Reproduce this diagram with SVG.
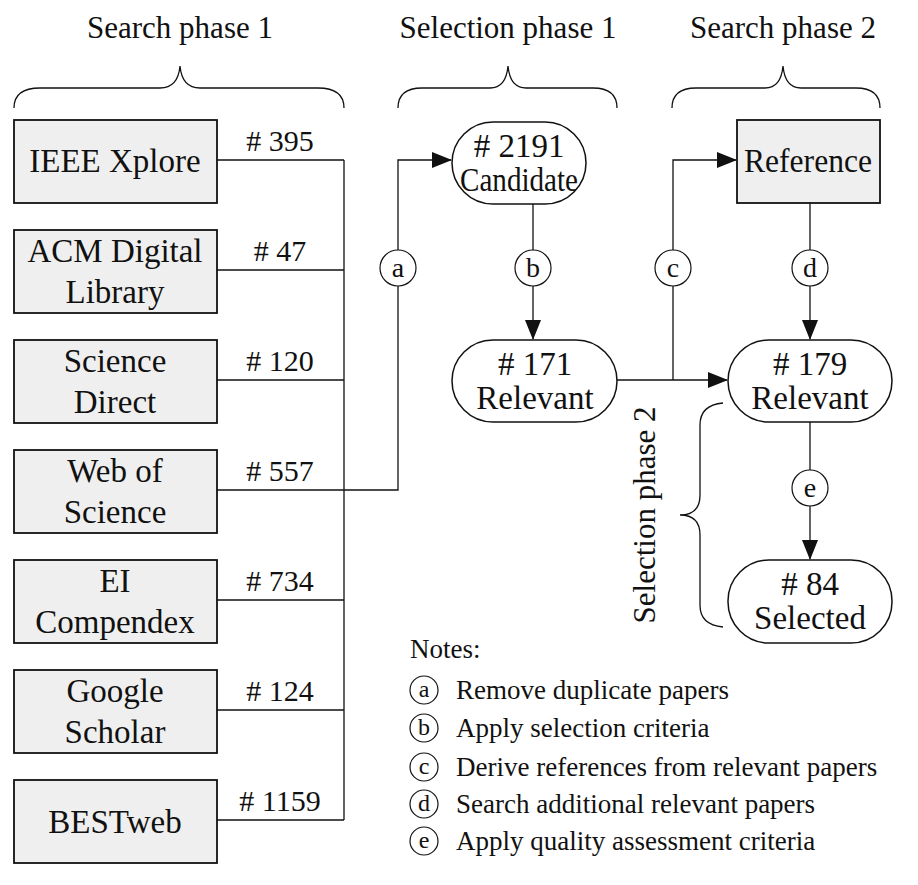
<svg xmlns="http://www.w3.org/2000/svg" width="918" height="885" viewBox="0 0 918 885">
<style>
text{font-family:"Liberation Serif","Times New Roman",serif;fill:#111}
.t{font-size:33px;text-anchor:middle}
.n{font-size:30px;text-anchor:middle}
.h{font-size:31px;text-anchor:middle}
.box{fill:#efefef;stroke:#111;stroke-width:1.8}
.rr{fill:#fff;stroke:#111;stroke-width:1.5}
.ln{fill:none;stroke:#111;stroke-width:1.3}
.ci{fill:#fff;stroke:#111;stroke-width:1.2}
.cl{font-size:28px;text-anchor:middle}
.nt{font-size:27px}
.nc{font-size:24px;text-anchor:middle}
</style>
<defs><marker id="ar" markerWidth="20" markerHeight="16" refX="19" refY="8" orient="auto" markerUnits="userSpaceOnUse"><path d="M0,0 L20,8 L0,16 Z" fill="#111"/></marker></defs>
<g id="titles">
<text class="h" x="180" y="38">Search phase 1</text>
<text class="h" x="508" y="38">Selection phase 1</text>
<text class="h" x="783" y="38">Search phase 2</text>
<path class="ln" d="M14,108 Q14,88 40,88 L160,88 Q178,88 180,66 Q182,88 200,88 L318,88 Q344,88 344,108"/>
<path class="ln" d="M398,108 Q398,88 422,88 L490,88 Q506,88 508,66 Q510,88 526,88 L593,88 Q617,88 617,108"/>
<path class="ln" d="M672,108 Q672,88 696,88 L765,88 Q781,88 783,66 Q785,88 801,88 L856,88 Q880,88 880,108"/>
</g>
<g id="connectors">
<path class="ln" d="M217,160 H344 M217,270 H344 M217,380 H344 M217,600 H344 M217,710 H344 M217,820 H344 M344,160 V820"/>
<path class="ln" d="M217,490 H398 V160 H451" marker-end="url(#ar)"/>
<path class="ln" d="M533,204 V339" marker-end="url(#ar)"/>
<path class="ln" d="M617,380 H727" marker-end="url(#ar)"/>
<path class="ln" d="M673,380 V160 H736" marker-end="url(#ar)"/>
<path class="ln" d="M810,203 V339" marker-end="url(#ar)"/>
<path class="ln" d="M810,422 V559" marker-end="url(#ar)"/>
<text class="n" x="280" y="151"># 395</text>
<text class="n" x="280" y="261"># 47</text>
<text class="n" x="280" y="371"># 120</text>
<text class="n" x="280" y="481"># 557</text>
<text class="n" x="280" y="591"># 734</text>
<text class="n" x="280" y="701"># 124</text>
<text class="n" x="280" y="811"># 1159</text>
<circle class="ci" cx="398" cy="268" r="18"/><text class="cl" x="398" y="277">a</text>
<circle class="ci" cx="533" cy="268" r="18"/><text class="cl" x="533" y="277">b</text>
<circle class="ci" cx="673" cy="268" r="18"/><text class="cl" x="673" y="277">c</text>
<circle class="ci" cx="810" cy="268" r="18"/><text class="cl" x="810" y="277">d</text>
<circle class="ci" cx="810" cy="488" r="18"/><text class="cl" x="810" y="497">e</text>
</g>
<g id="ieee"><rect class="box" x="14" y="120" width="203" height="83"/><text class="t" x="115" y="172">IEEE Xplore</text></g>
<g id="acm"><rect class="box" x="14" y="230" width="203" height="83"/><text class="t" x="115" y="262">ACM Digital</text><text class="t" x="115" y="303">Library</text></g>
<g id="sd"><rect class="box" x="14" y="340" width="203" height="83"/><text class="t" x="115" y="372">Science</text><text class="t" x="115" y="413">Direct</text></g>
<g id="wos"><rect class="box" x="14" y="450" width="203" height="83"/><text class="t" x="115" y="482">Web of</text><text class="t" x="115" y="523">Science</text></g>
<g id="ei"><rect class="box" x="14" y="560" width="203" height="83"/><text class="t" x="115" y="592">EI</text><text class="t" x="115" y="633">Compendex</text></g>
<g id="gs"><rect class="box" x="14" y="670" width="203" height="83"/><text class="t" x="115" y="702">Google</text><text class="t" x="115" y="743">Scholar</text></g>
<g id="best"><rect class="box" x="14" y="780" width="203" height="83"/><text class="t" x="115" y="833">BESTweb</text></g>
<g id="cand"><rect class="rr" x="452" y="122" width="134" height="82" rx="41"/><text class="t" x="519" y="157"># 2191</text><text class="t" x="519" y="191" textLength="118" lengthAdjust="spacingAndGlyphs">Candidate</text></g>
<g id="rel171"><rect class="rr" x="452" y="340" width="165" height="82" rx="41"/><text class="t" x="535" y="375"># 171</text><text class="t" x="535" y="409">Relevant</text></g>
<g id="ref"><rect class="box" x="737" y="120" width="143" height="83"/><text class="t" x="808" y="172" textLength="128" lengthAdjust="spacingAndGlyphs">Reference</text></g>
<g id="rel179"><rect class="rr" x="728" y="340" width="164" height="82" rx="41"/><text class="t" x="810" y="375"># 179</text><text class="t" x="810" y="409">Relevant</text></g>
<g id="sel84"><rect class="rr" x="728" y="560" width="164" height="83" rx="41"/><text class="t" x="810" y="595"># 84</text><text class="t" x="810" y="629">Selected</text></g>
<g id="sp2">
<path class="ln" d="M723,403 Q700,405 700,425 L700,495 Q700,515 680,515 Q700,515 700,535 L700,605 Q700,625 723,627"/>
<text class="h" transform="translate(655,515) rotate(-90)">Selection phase 2</text>
</g>
<g id="notes">
<text class="nt" x="410" y="658">Notes:</text>
<circle class="ci" cx="424" cy="690" r="14"/><text class="nc" x="424" y="697">a</text><text class="nt" x="456" y="699">Remove duplicate papers</text>
<circle class="ci" cx="424" cy="728" r="14"/><text class="nc" x="424" y="735">b</text><text class="nt" x="456" y="737">Apply selection criteria</text>
<circle class="ci" cx="424" cy="767" r="14"/><text class="nc" x="424" y="774">c</text><text class="nt" x="456" y="776">Derive references from relevant papers</text>
<circle class="ci" cx="424" cy="804" r="14"/><text class="nc" x="424" y="811">d</text><text class="nt" x="456" y="813">Search additional relevant papers</text>
<circle class="ci" cx="424" cy="841" r="14"/><text class="nc" x="424" y="848">e</text><text class="nt" x="456" y="850">Apply quality assessment criteria</text>
</g>
</svg>
